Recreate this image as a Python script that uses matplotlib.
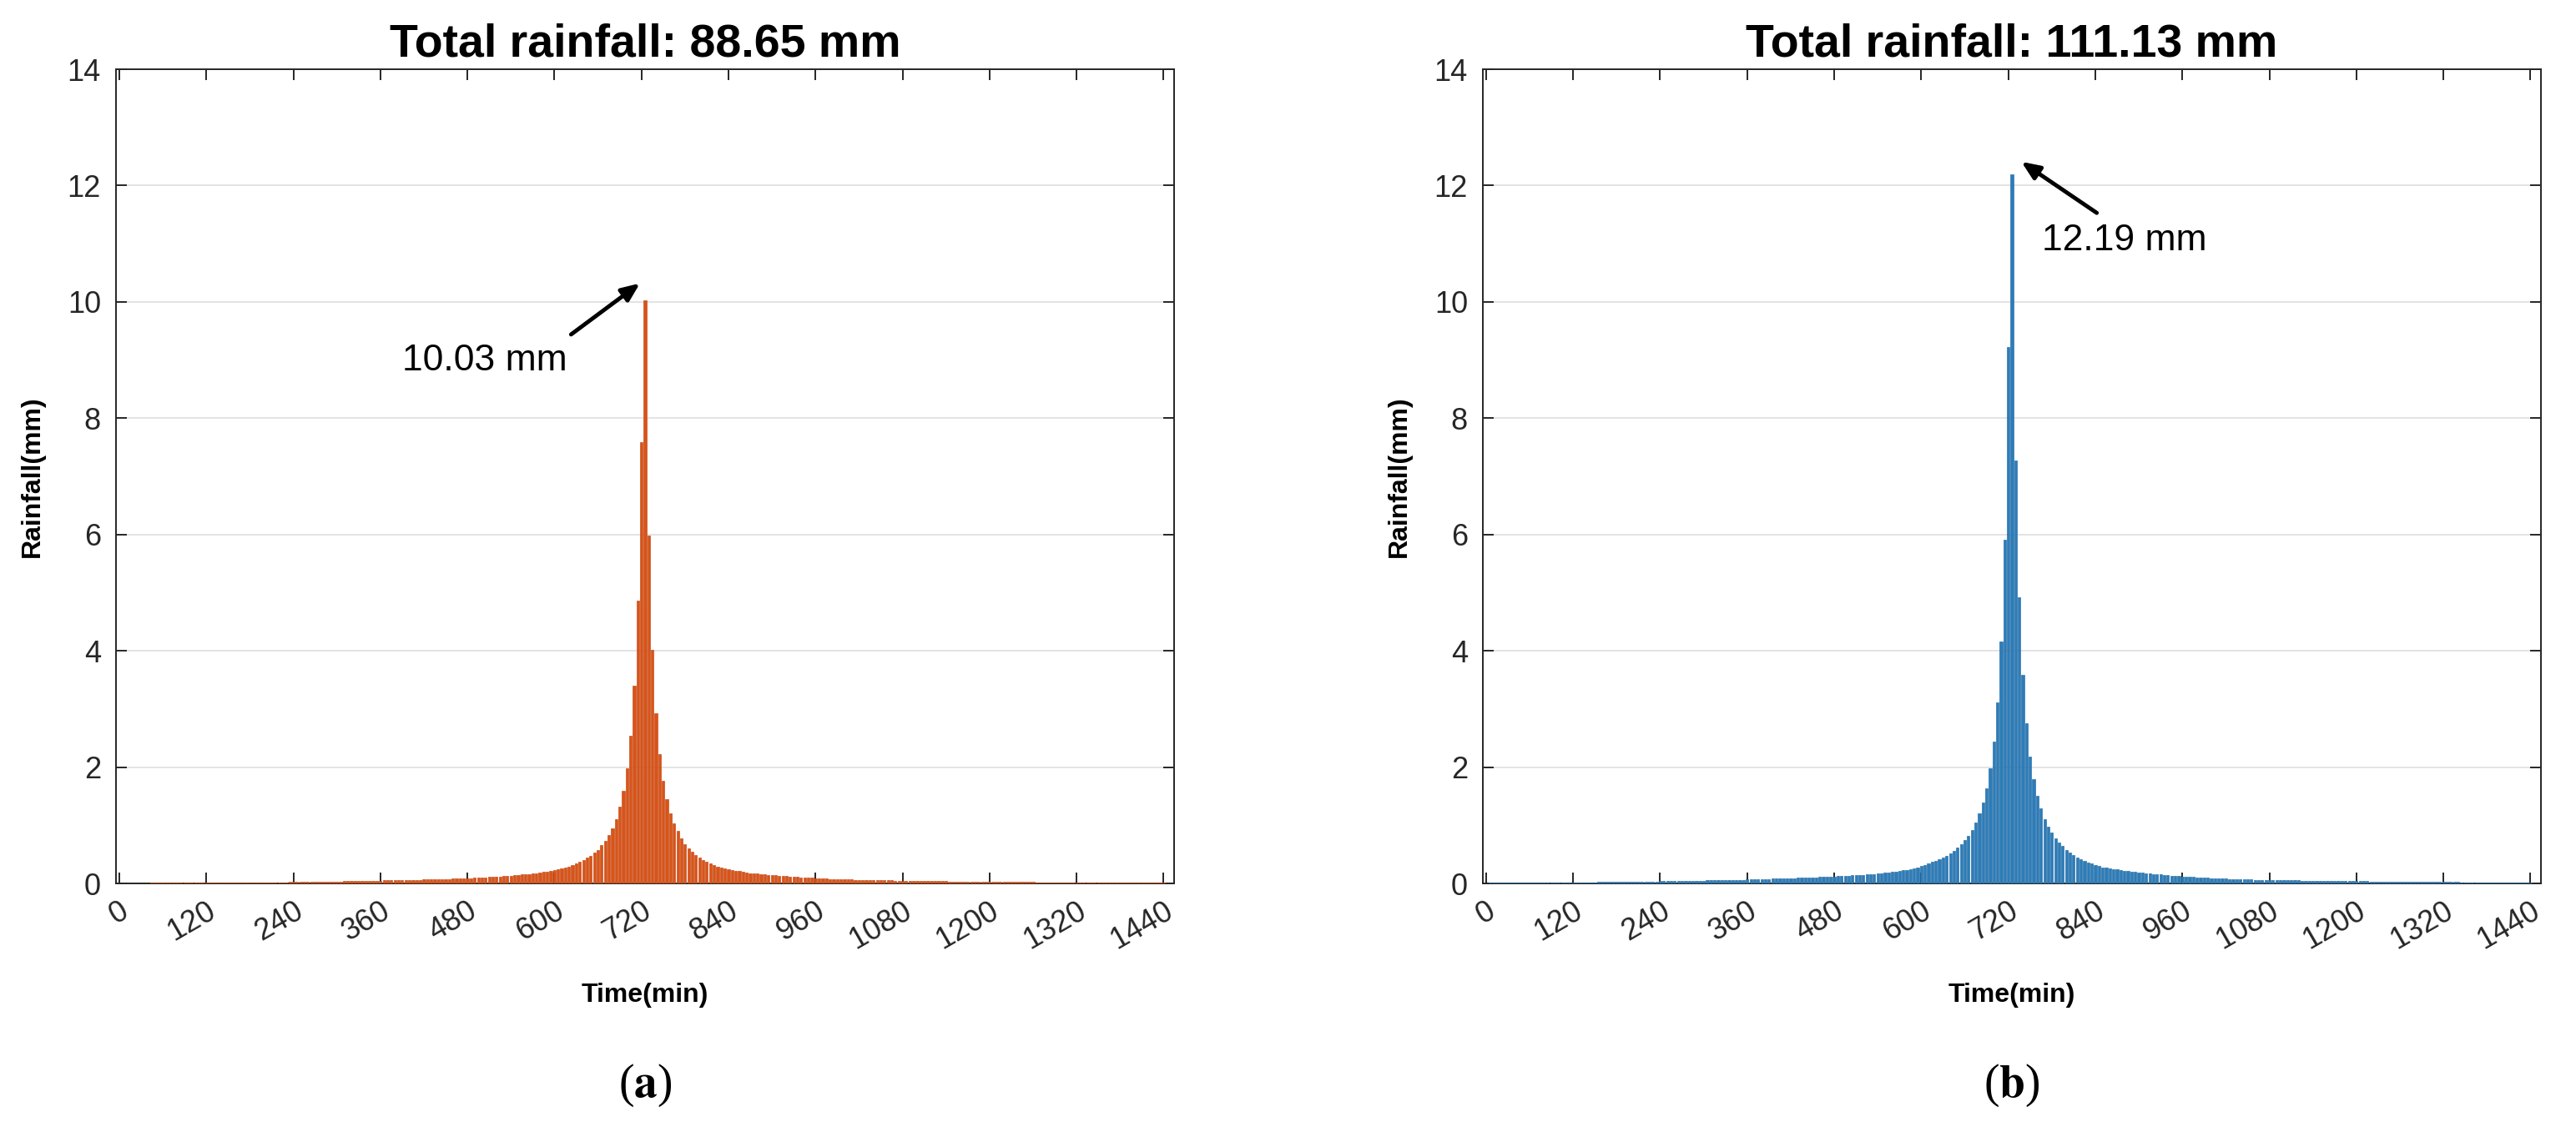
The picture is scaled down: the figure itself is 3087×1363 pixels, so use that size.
import numpy as np
import matplotlib
matplotlib.use("Agg")
import matplotlib.pyplot as plt

plt.rcParams['font.family'] = ['Liberation Sans', 'DejaVu Sans']
plt.rcParams['mathtext.fontset'] = 'stix'

# time axis: 5-min steps, bar centres 5..1440 min
time_min = np.arange(5, 1445, 5)

# panel (a) rainfall per 5 min (mm), one row per hour
rain_a = [
    0.006, 0.006, 0.006, 0.007, 0.007, 0.007, 0.007, 0.007, 0.008, 0.008, 0.008, 0.008,
    0.008, 0.009, 0.009, 0.009, 0.009, 0.010, 0.010, 0.010, 0.010, 0.011, 0.011, 0.011,
    0.012, 0.012, 0.012, 0.013, 0.013, 0.014, 0.014, 0.014, 0.015, 0.015, 0.016, 0.016,
    0.017, 0.017, 0.018, 0.018, 0.019, 0.020, 0.020, 0.021, 0.022, 0.022, 0.023, 0.024,
    0.025, 0.026, 0.026, 0.027, 0.028, 0.029, 0.030, 0.031, 0.032, 0.033, 0.034, 0.035,
    0.036, 0.037, 0.038, 0.040, 0.041, 0.042, 0.043, 0.045, 0.046, 0.048, 0.049, 0.050,
    0.051, 0.052, 0.053, 0.054, 0.056, 0.057, 0.058, 0.060, 0.061, 0.063, 0.064, 0.066,
    0.068, 0.069, 0.071, 0.073, 0.075, 0.077, 0.079, 0.081, 0.083, 0.085, 0.088, 0.090,
    0.093, 0.096, 0.099, 0.102, 0.105, 0.109, 0.112, 0.116, 0.120, 0.125, 0.130, 0.135,
    0.140, 0.146, 0.152, 0.158, 0.165, 0.172, 0.180, 0.188, 0.197, 0.207, 0.218, 0.230,
    0.245, 0.260, 0.280, 0.290, 0.320, 0.340, 0.370, 0.400, 0.440, 0.480, 0.530, 0.580,
    0.660, 0.730, 0.830, 0.950, 1.100, 1.320, 1.590, 1.980, 2.540, 3.400, 4.860, 7.590,
    10.03, 5.980, 4.010, 2.920, 2.220, 1.760, 1.450, 1.210, 1.040, 0.900, 0.780, 0.680,
    0.610, 0.550, 0.490, 0.440, 0.400, 0.370, 0.340, 0.310, 0.290, 0.270, 0.260, 0.240,
    0.230, 0.220, 0.210, 0.200, 0.190, 0.180, 0.175, 0.170, 0.160, 0.155, 0.150, 0.145,
    0.140, 0.135, 0.130, 0.125, 0.120, 0.115, 0.110, 0.105, 0.100, 0.097, 0.094, 0.090,
    0.087, 0.084, 0.081, 0.079, 0.076, 0.074, 0.072, 0.070, 0.068, 0.066, 0.064, 0.062,
    0.061, 0.059, 0.058, 0.056, 0.055, 0.054, 0.053, 0.052, 0.051, 0.050, 0.049, 0.048,
    0.047, 0.046, 0.045, 0.044, 0.043, 0.042, 0.041, 0.040, 0.039, 0.038, 0.037, 0.037,
    0.036, 0.035, 0.035, 0.034, 0.033, 0.033, 0.032, 0.031, 0.031, 0.030, 0.030, 0.029,
    0.028, 0.028, 0.027, 0.027, 0.026, 0.026, 0.025, 0.025, 0.024, 0.024, 0.023, 0.023,
    0.022, 0.022, 0.021, 0.021, 0.020, 0.020, 0.019, 0.019, 0.018, 0.018, 0.017, 0.017,
    0.016, 0.016, 0.016, 0.015, 0.015, 0.015, 0.014, 0.014, 0.014, 0.013, 0.013, 0.013,
    0.012, 0.012, 0.012, 0.012, 0.011, 0.011, 0.011, 0.011, 0.010, 0.010, 0.010, 0.010,
]

# panel (b)
rain_b = [
    0.010, 0.010, 0.011, 0.011, 0.011, 0.012, 0.012, 0.012, 0.013, 0.013, 0.013, 0.014,
    0.014, 0.014, 0.015, 0.015, 0.016, 0.016, 0.016, 0.017, 0.017, 0.018, 0.018, 0.019,
    0.019, 0.020, 0.020, 0.021, 0.022, 0.022, 0.023, 0.023, 0.024, 0.025, 0.025, 0.026,
    0.027, 0.028, 0.028, 0.029, 0.030, 0.031, 0.032, 0.033, 0.034, 0.035, 0.036, 0.037,
    0.038, 0.039, 0.040, 0.041, 0.042, 0.043, 0.044, 0.045, 0.046, 0.047, 0.048, 0.050,
    0.051, 0.052, 0.053, 0.055, 0.056, 0.057, 0.059, 0.060, 0.062, 0.063, 0.065, 0.067,
    0.068, 0.070, 0.072, 0.074, 0.076, 0.078, 0.080, 0.082, 0.084, 0.086, 0.088, 0.091,
    0.093, 0.095, 0.098, 0.100, 0.103, 0.105, 0.108, 0.110, 0.113, 0.116, 0.119, 0.122,
    0.125, 0.128, 0.131, 0.135, 0.138, 0.142, 0.146, 0.150, 0.154, 0.158, 0.163, 0.168,
    0.175, 0.182, 0.190, 0.198, 0.207, 0.216, 0.226, 0.237, 0.249, 0.262, 0.277, 0.295,
    0.320, 0.340, 0.370, 0.390, 0.420, 0.440, 0.480, 0.510, 0.560, 0.620, 0.670, 0.740,
    0.820, 0.920, 1.050, 1.200, 1.390, 1.640, 1.980, 2.440, 3.120, 4.160, 5.910, 9.230,
    12.19, 7.280, 4.920, 3.580, 2.750, 2.180, 1.790, 1.510, 1.290, 1.100, 0.980, 0.870,
    0.770, 0.700, 0.640, 0.580, 0.530, 0.490, 0.450, 0.420, 0.390, 0.360, 0.340, 0.320,
    0.300, 0.280, 0.270, 0.260, 0.250, 0.240, 0.230, 0.220, 0.210, 0.200, 0.195, 0.190,
    0.183, 0.176, 0.170, 0.164, 0.158, 0.152, 0.146, 0.141, 0.136, 0.131, 0.126, 0.121,
    0.117, 0.113, 0.109, 0.105, 0.101, 0.098, 0.095, 0.092, 0.089, 0.086, 0.083, 0.080,
    0.078, 0.076, 0.074, 0.072, 0.070, 0.068, 0.066, 0.065, 0.063, 0.062, 0.061, 0.060,
    0.058, 0.057, 0.056, 0.055, 0.054, 0.053, 0.052, 0.051, 0.050, 0.049, 0.048, 0.047,
    0.046, 0.045, 0.045, 0.044, 0.043, 0.043, 0.042, 0.041, 0.041, 0.040, 0.040, 0.039,
    0.038, 0.037, 0.037, 0.036, 0.035, 0.035, 0.034, 0.033, 0.033, 0.032, 0.032, 0.031,
    0.030, 0.030, 0.029, 0.029, 0.028, 0.028, 0.027, 0.027, 0.026, 0.026, 0.025, 0.025,
    0.024, 0.024, 0.023, 0.023, 0.022, 0.022, 0.021, 0.021, 0.020, 0.020, 0.019, 0.019,
    0.019, 0.018, 0.018, 0.018, 0.017, 0.017, 0.017, 0.016, 0.016, 0.016, 0.015, 0.015,
]

totals = [88.65, 111.13]
peaks = [10.03, 12.19]
xticks = list(range(0, 1441, 120))
yticks = list(range(0, 15, 2))

DARK = '#262626'


def draw_panel(ax, values, color, edge, total, peak_label, arrow_tail, arrow_head,
               text_xy, text_ha, letter):
    # outlined bars drawn over the baseline, so tiny values still show
    ax.bar(time_min, values, width=3.7, color=color, edgecolor=edge,
           linewidth=0.45, zorder=3, clip_on=True)
    ax.set_xlim(-4.5, 1454.5)
    ax.set_ylim(0, 14)
    ax.set_xticks(xticks)
    ax.set_xticklabels([str(t) for t in xticks], rotation=30, ha='right',
                       va='top', rotation_mode='anchor')
    ax.set_yticks(yticks)
    ax.tick_params(direction='in', length=9.5, width=1.4, colors=DARK,
                   labelsize=26, top=True, right=True)
    ax.tick_params(axis='y', pad=13)
    ax.tick_params(axis='x', pad=11)
    for s in ax.spines.values():
        s.set_color(DARK)
        s.set_linewidth(1.4)
    ax.yaxis.grid(True, color='#E3E3E3', linewidth=1.4, zorder=0)
    ax.set_axisbelow(True)

    ax.set_title('Total rainfall: %.2f mm' % total, fontsize=40,
                 fontweight='bold', y=1.0154, pad=0, va='baseline')
    ax.set_xlabel('Time(min)', fontsize=23, fontweight='bold', va='center')
    ax.xaxis.set_label_coords(0.5, -0.137)
    ax.set_ylabel('Rainfall(mm)', fontsize=23, fontweight='bold', va='center')
    ax.yaxis.set_label_coords(-0.079, 0.5)

    ax.annotate('', xy=arrow_head, xytext=arrow_tail,
                arrowprops=dict(arrowstyle='-|>,head_length=1.3,head_width=0.55',
                                color='black', lw=3.5, shrinkA=0, shrinkB=0))
    ax.text(text_xy[0], text_xy[1], peak_label, fontsize=32, ha=text_ha,
            va='center', color='black')
    ax.text(0.5, -0.248, r'(' + r'$\mathbf{%s}$' % letter + ')',
            transform=ax.transAxes, ha='center', va='center', fontsize=40,
            family='Liberation Serif')


fig = plt.figure(figsize=(30.87, 13.63), dpi=100)
ax_a = fig.add_axes([0.04503, 0.2230, 0.41076, 0.7161])
ax_b = fig.add_axes([0.57564, 0.2230, 0.41076, 0.7161])

draw_panel(ax_a, rain_a, '#D95319', '#C4470F', totals[0], '%.2f mm' % peaks[0],
           (623, 9.44), (718, 10.32), (618, 8.98), 'right', 'a')
draw_panel(ax_b, rain_b, '#2D7CB8', '#1F6AA5', totals[1], '%.2f mm' % peaks[1],
           (842, 11.53), (738, 12.41), (880, 11.05), 'center', 'b')

fig.savefig('out.png', dpi=100)
